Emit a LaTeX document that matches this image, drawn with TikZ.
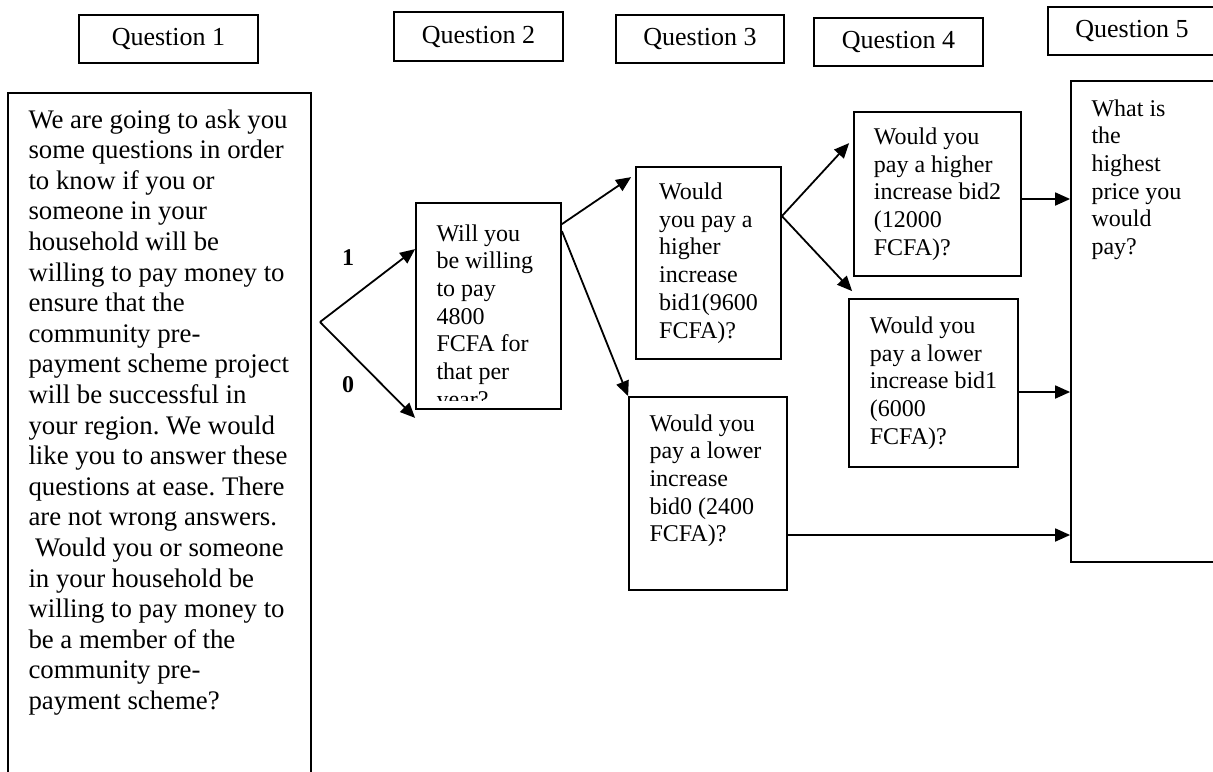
\documentclass[tikz,border=0pt]{standalone}
\usepackage{fontspec}
\setmainfont{Liberation Serif}
\usetikzlibrary{arrows.meta,positioning}
\frenchspacing
\tikzset{
    every node/.style={
        font=\fontsize{12}{13.85}\selectfont
    },
    heading/.style={
        shape=rectangle,
        draw,
        line width=0.9pt,
        minimum width=84.5pt,
        minimum height=24pt,
        font=\fontsize{13}{15}\selectfont
    },
    question/.style={
        shape=rectangle,
        draw,
        line width=0.9pt,
        align=left
    },
    boxtext/.style={
        inner sep=0pt,
        anchor=north west,
        align=left
    },
    answer/.style={
        font=\bfseries\fontsize{12}{14}\selectfont
    }
}
\tikzstyle{link} = [-{Triangle[length=7.5pt,width=6.5pt]}, line width=0.9pt]

\begin{document}
\begin{tikzpicture}[x=0.5pt,y=-0.5pt]
    \clip (0,0) rectangle (1213,771);
    % Headings
    \node (h1) at (168.5,39) [heading, minimum width=89.5pt] {Question 1};
    \node (h2) at (478.5,36.5) [heading, minimum height=24.5pt] {Question 2};
    \node (h3) at (700,39) [heading, minimum width=84pt] {Question 3};
    \node (h4) at (898.5,42) [heading] {Question 4};
    \node (h5) at (1132,31) [heading, minimum width=84pt] {Question 5};
    % Question 1
    \node (q1) at (159.5,443) [question, minimum width=151.5pt, minimum height=350pt] {};
    \node (q1text) at ([shift={(10.5pt,-8.5pt)}]q1.north west) [boxtext, font=\fontsize{13.4}{15.3}\selectfont]
        {We are going to ask you\\ some questions in order\\ to know if you or\\ someone in your\\ household will be\\
         willing to pay money to\\ ensure that the\\ community pre-\\ payment scheme project\\ will be successful in\\
         your region. We would\\ like you to answer these\\ questions at ease. There\\ are not wrong answers.\\
         \hspace*{3.3pt}Would you or someone\\ in your household be\\ willing to pay money to\\ be a member of the\\
         community pre-\\ payment scheme?};
    % Question 2
    \node (q2) at (488.5,306) [question, minimum width=72.5pt, minimum height=103pt] {};
    \begin{scope}
        \clip ([yshift=4.5pt]q2.south west) rectangle (q2.north east);
        \node (q2text) at ([shift={(10.5pt,-11pt)}]q2.north west) [boxtext]
            {Will you\\ be willing\\ to pay\\ 4800\\ FCFA for\\ that per\\ year?};
    \end{scope}
    % Questions 3 and 4
    \node (b1) at (708.5,263) [question, minimum width=72.5pt, minimum height=96pt]
        {Would\\ you pay a\\ higher\\ increase\\ bid1(9600\\ FCFA)?};
    \node (lo0) at (708,493.5) [question, minimum width=79pt, minimum height=96.5pt] {};
    \node (lo0text) at ([shift={(10.5pt,-9pt)}]lo0.north west) [boxtext]
        {Would you\\ pay a lower\\ increase\\ bid0 (2400\\ FCFA)?};
    \node (hi2) at (937.5,194) [question, minimum width=83.5pt, minimum height=82pt]
        {Would you\\ pay a higher\\ increase bid2\\ (12000\\ FCFA)?};
    \node (lo1) at (933.5,383) [question, minimum width=84.5pt, minimum height=84pt]
        {Would you\\ pay a lower\\ increase bid1\\ (6000\\ FCFA)?};
    % Question 5
    \node (q5) at (1156,321.5) [question, minimum width=85pt, minimum height=240.5pt] {};
    \node (q5text) at ([shift={(10.5pt,-9.5pt)}]q5.north west) [boxtext]
        {What is\\ the\\ highest\\ price you\\ would\\ pay?};
    % Answers
    \node (yes) at (348,258) [answer] {1};
    \node (no) at (348,385) [answer] {0};
    % Connectors
    \coordinate (fork) at (320,322);
    \draw [link] (fork) -- ([yshift=-23.5pt]q2.north west);
    \draw [link] (fork) -- ([yshift=-4pt]q2.south west);
    \draw [link] ([yshift=-11pt]q2.north east) -- ([shift={(-2pt,-5.5pt)}]b1.north west);
    \draw [link] ([yshift=-14.5pt]q2.north east) -- (lo0.north west);
    \draw [link] ([yshift=-25pt]b1.north east) -- ([shift={(-2pt,-16pt)}]hi2.north west);
    \draw [link] ([yshift=-25pt]b1.north east) -- ([shift={(2pt,3.5pt)}]lo1.north west);
    \draw [link] ([yshift=-2.5pt]hi2.east) -- ([yshift=-2.5pt]hi2.east -| q5.west);
    \draw [link] ([yshift=-4.5pt]lo1.east) -- ([yshift=-4.5pt]lo1.east -| q5.west);
    \draw [link] ([yshift=-20.75pt]lo0.east) -- ([yshift=-20.75pt]lo0.east -| q5.west);
\end{tikzpicture}
\end{document}
